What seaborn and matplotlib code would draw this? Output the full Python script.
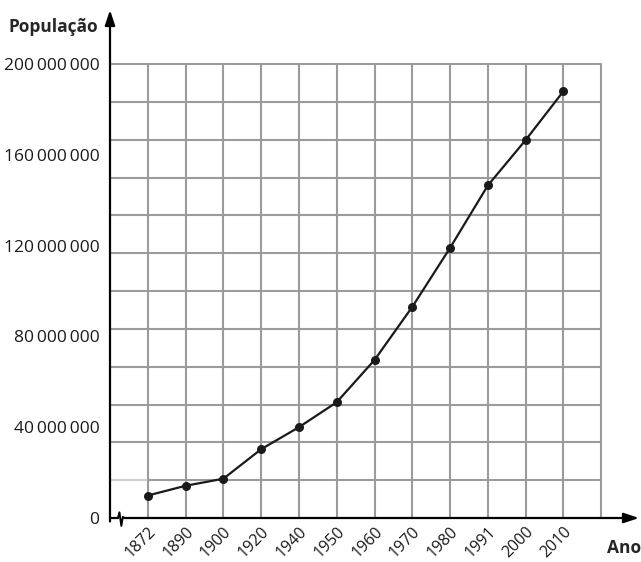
import numpy as np
import pandas as pd
import matplotlib
matplotlib.use("Agg")
import matplotlib.pyplot as plt
import seaborn as sns

years = ["1872", "1890", "1900", "1920", "1940", "1950", "1960", "1970", "1980", "1991", "2000", "2010"]
population = [9.9e6, 14.2e6, 17.3e6, 30.3e6, 40.0e6, 51.0e6, 69.6e6, 93.0e6, 119.0e6, 146.5e6, 166.5e6, 188.0e6]
ytick_values = [0, 40e6, 80e6, 120e6, 160e6, 200e6]
ytick_labels = ["0", "40\u2009000\u2009000", "80\u2009000\u2009000", "120\u2009000\u2009000",
                "160\u2009000\u2009000", "200\u2009000\u2009000"]

sns.set_style("white")
plt.rcParams["font.family"] = ["Open Sans", "DejaVu Sans"]

W, H = 641, 562
fig = plt.figure(figsize=(W / 100, H / 100), dpi=100)
ax = fig.add_axes([110 / W, 44 / H, 529 / W, 508 / H])

ymax = 200e6
cell = ymax / 12
ytop = 200e6 * 508 / 454

# grid
grid_c = "#9b9b9b"
for k in range(0, 13):
    ax.plot([k, k], [0, ymax], color=grid_c, lw=1.5, zorder=1, solid_capstyle="butt")
for k in range(1, 13):
    if k == 1:
        ax.plot([-1, 0], [k * cell, k * cell], color="#cfcfcf", lw=1.5, zorder=1)
        ax.plot([0, 12], [k * cell, k * cell], color=grid_c, lw=1.5, zorder=1)
    else:
        ax.plot([-1, 12], [k * cell, k * cell], color=grid_c, lw=1.5, zorder=1)

df = pd.DataFrame({"pos": np.arange(len(years)), "pop": population})
sns.lineplot(data=df, x="pos", y="pop", ax=ax, color="#1a1a1a", lw=1.6,
             marker="o", markersize=6.5, markeredgewidth=0, zorder=5)

ax.set_xlim(-1, 13)
ax.set_ylim(0, ytop)
for s in ax.spines.values():
    s.set_visible(False)

# axes arrows
ax.annotate("", xy=(-1, ytop), xytext=(-1, -1.5e6),
            arrowprops=dict(arrowstyle="-|>,head_length=0.9,head_width=0.3", color="black", lw=1.6,
                            shrinkA=0, shrinkB=0), annotation_clip=False, zorder=6)
ax.annotate("", xy=(13, 0), xytext=(-0.62, 0),
            arrowprops=dict(arrowstyle="-|>,head_length=0.9,head_width=0.3", color="black", lw=1.6,
                            shrinkA=0, shrinkB=0), annotation_clip=False, zorder=6)
ax.plot([-1, -0.79], [0, 0], color="black", lw=1.6, zorder=6, clip_on=False)
ax.plot([-0.79, -0.75, -0.70, -0.66, -0.62], [0, 2.5e6, -3.5e6, 0.5e6, 0], color="black", lw=1.4,
        zorder=6, clip_on=False)

ax.set_yticks(ytick_values)
ax.set_yticklabels(ytick_labels)
ax.set_xticks(np.arange(len(years)))
ax.set_xticklabels(years, rotation=45, ha="right", va="top", rotation_mode="anchor")
ax.tick_params(axis="y", direction="inout", length=11, width=1.5, color="black",
               labelsize=12.5, pad=2, labelcolor="#1a1a1a")
ax.tick_params(axis="x", direction="in", length=4, width=1.5, color="black",
               labelsize=11.5, pad=4, labelcolor="#1a1a1a")
ax.xaxis.get_major_ticks()[0].tick1line.set_visible(False)
ax.set_xlabel("")
ax.set_ylabel("")

fig.text(8 / W, 1 - 27 / H, "População", fontsize=12.5, fontweight="bold", va="center", ha="left")
fig.text(641 / W, 1 - 548 / H, "Ano", fontsize=12.5, fontweight="bold", va="center", ha="right")

fig.savefig("out.png", dpi=100)
